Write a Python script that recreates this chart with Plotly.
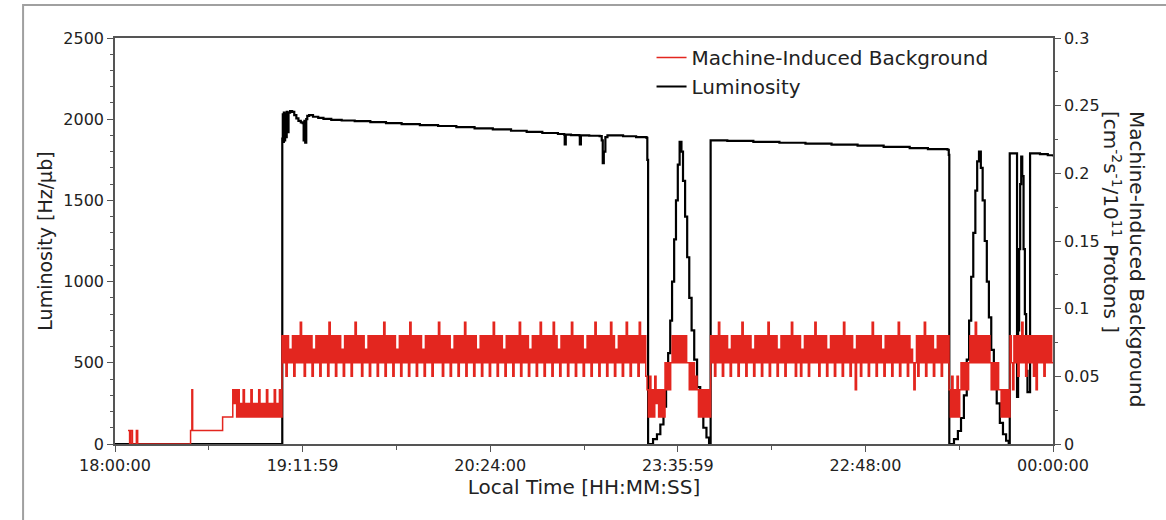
import plotly.graph_objects as go

# ---------------- data ----------------
# x axis is minutes after 18:00:00
tick_minutes = [0, 72, 144, 216, 288, 360]
tick_labels = ["18:00:00", "19:11:59", "20:24:00", "23:35:59", "22:48:00", "00:00:00"]

# Luminosity [Hz/ub] (step points)
lum_time = [0, 64.1, 64.2, 64.4, 64.6, 64.8, 65.0, 65.3, 65.6, 65.9, 66.2, 66.6, 67.2, 68.0, 68.8,
            69.6, 70.4, 71.3, 72.0, 72.4, 72.7, 73.0, 73.4, 73.8, 74.5, 76, 78, 80, 83, 87, 92, 98,
            104, 110, 117, 124, 131, 138, 145, 152, 158, 164, 170, 172.4, 172.6, 173.0, 175, 178.2,
            178.4, 178.8, 182, 186, 186.8, 187.2, 187.6, 188.2, 189, 195, 200, 204.0, 204.3, 204.6,
            206.5, 208.0, 209.3, 210.5, 211.5, 212.3, 213.1, 213.8, 214.6, 215.3, 216.0, 216.7,
            217.4, 218.0, 218.8, 219.6, 220.4, 221.3, 222.3, 223.4, 224.6, 225.8, 227.0, 228.0,
            228.6, 235, 245, 255, 265, 275, 285, 295, 305, 312, 319.5, 320.0, 320.2,
            322, 323.5, 324.7, 325.8, 326.9, 327.8, 328.6, 329.4, 330.2, 330.9, 331.6, 332.3,
            333.0, 333.8, 334.6, 335.4, 336.3, 337.3, 338.4, 339.6, 340.8, 342.0, 343.0,
            343.4, 346.2, 346.6, 347.0, 347.4, 347.8, 348.2, 348.7, 349.2, 349.7, 350.2, 351.2,
            355, 358, 360]
lum_value = [0, 0, 1880, 2030, 1860, 2040, 1870, 2035, 1890, 2045, 1920, 2040, 2050, 2045, 2025,
             2005, 1990, 1980, 1975, 1870, 1990, 1855, 2000, 2020, 2025, 2015, 2008, 2002, 1996, 1992, 1988, 1982,
             1976, 1970, 1964, 1958, 1951, 1944, 1937, 1929, 1922, 1915, 1909, 1905, 1845, 1905, 1902, 1900,
             1845, 1900, 1898, 1896, 1870, 1730, 1800, 1890, 1900, 1895, 1890, 1885, 1750, 0,
             30, 60, 120, 230, 380, 560, 760, 1000, 1260, 1500, 1720, 1860,
             1800, 1620, 1400, 1150, 900, 700, 520, 350, 200, 100, 40, 0,
             1870, 1866, 1860, 1855, 1849, 1843, 1837, 1830, 1822, 1816, 1812, 1780, 0,
             30, 80, 160, 300, 520, 760, 1030, 1300, 1560, 1740, 1800, 1700,
             1500, 1250, 1000, 780, 580, 400, 250, 130, 60, 20, 0,
             1790, 290, 700, 1200, 1600, 1770, 1650, 1200, 800, 450, 320, 1790,
             1785, 1778, 1770]

# Machine-induced background, in units of 0.01 cm^-2 s^-1 / 1e11 protons
bg_early_time = [5.0, 5.6, 6.1, 6.7, 8.2, 8.7, 29.0, 29.5, 29.8, 41.3]
bg_early_value = [1, 0, 1, 0, 1, 0, 1, 4, 1, 2]

bg_ramp = [4, 3, 4, 2, 4, 2, 3, 2, 4, 2, 3, 2, 3, 2, 4, 2, 3, 2, 3, 2,
           4, 2, 3, 2, 3, 2, 4, 2, 3, 2, 3, 2, 4, 2, 3, 2, 4, 2]

bg_fill1 = [
    8, 6, 8, 5, 8, 6, 7, 6, 8, 5, 8, 6, 8, 6, 9, 6, 8, 5, 8, 6, 8, 6, 8, 5, 7, 6, 8, 6, 8, 5, 8, 6, 8, 6, 8, 5, 9, 6, 8, 6,
    8, 5, 8, 6, 8, 6, 7, 5, 8, 6, 8, 6, 8, 5, 8, 6, 9, 6, 8, 6, 8, 5, 8, 6, 7, 6, 8, 5, 8, 6, 8, 6, 8, 5, 8, 6, 8, 6, 9, 5,
    8, 6, 8, 6, 8, 5, 8, 6, 7, 6, 8, 5, 8, 6, 8, 6, 8, 5, 9, 6, 8, 6, 8, 5, 8, 6, 8, 6, 7, 5, 8, 6, 8, 6, 8, 5, 8, 6, 8, 6,
    9, 6, 8, 5, 8, 6, 8, 6, 8, 5, 7, 6, 8, 6, 8, 5, 8, 6, 8, 6, 9, 5, 8, 6, 8, 6, 8, 5, 8, 6, 7, 6, 8, 5, 8, 6, 8, 6, 8, 5,
    8, 6, 9, 6, 8, 5, 8, 6, 8, 6, 7, 5, 8, 6, 8, 6, 8, 5, 8, 6, 8, 6, 9, 5, 8, 6, 8, 6, 8, 5, 7, 6, 8, 6, 8, 5, 8, 6, 9, 6,
    8, 5, 8, 6, 8, 6, 8, 5, 9, 6, 8, 6, 7, 5, 8, 6, 8, 6, 8, 5, 8, 6, 9, 6, 8, 5, 8, 6, 8, 6, 8, 5, 7, 6, 8, 6, 8, 5, 8, 6,
    9, 6, 8, 5, 8, 6, 8, 6, 8, 5, 8, 6, 9, 6, 8, 5, 7, 6, 8, 6, 8, 5, 8, 6, 9, 6, 8, 5, 8, 6, 8, 6, 8, 5, 9, 6, 8, 6, 8, 5]

bg_scan1_a = [4, 2, 5, 2, 4, 2, 5, 3, 4, 2, 4, 2, 4, 2]
bg_scan1_b = [6, 4, 6, 4, 6]
bg_scan1_c = [8, 6, 8, 6, 8, 6, 8, 6, 8, 6, 8, 6]
bg_scan1_d = [6, 4, 6, 4, 6, 4, 5]
bg_scan1_e = [4, 2, 4, 2, 4, 2, 4, 2, 4, 2]

bg_fill2 = [
    8, 6, 8, 5, 8, 6, 9, 6, 8, 5, 8, 6, 8, 6, 7, 5, 8, 6, 8, 6, 8, 5, 8, 6, 9, 6, 8, 5, 8, 6, 8, 6, 7, 5, 8, 6, 8, 6, 8, 5,
    8, 6, 8, 6, 9, 5, 8, 6, 8, 6, 8, 5, 7, 6, 8, 6, 8, 5, 8, 6, 8, 6, 9, 6, 8, 5, 8, 6, 8, 5, 7, 6, 8, 6, 8, 5, 8, 6, 8, 6,
    9, 6, 8, 5, 8, 6, 8, 6, 8, 5, 7, 6, 8, 6, 8, 5, 8, 6, 8, 6, 8, 5, 9, 6, 8, 6, 8, 5, 8, 6, 7, 4, 8, 6, 8, 5, 8, 6, 8, 6,
    8, 5, 8, 6, 9, 6, 8, 5, 8, 6, 8, 6, 7, 5, 8, 6, 8, 6, 8, 5, 8, 6, 8, 6, 9, 5, 8, 6, 8, 6, 8, 5, 8, 6, 7, 6, 4, 6, 8, 5,
    8, 6, 8, 6, 9, 5, 8, 6, 8, 6, 8, 5, 7, 6, 8, 6, 8, 5, 8, 6, 8, 6, 8]

bg_scan2_a = [4, 2, 5, 2, 4, 2, 5, 2, 4]
bg_scan2_b = [6, 4, 6, 4, 6, 4, 6]
bg_scan2_c = [8, 6, 8, 6, 9, 6, 8, 6, 8, 6, 8, 6, 8, 6, 8]
bg_scan2_d = [6, 4, 6, 4, 6, 4, 6, 4]
bg_scan2_e = [4, 2, 4, 2, 4, 2, 4, 2]

bg_fill3 = [8, 6, 4, 8, 6, 8, 5, 8, 6, 9, 6, 8, 5, 8, 6, 8, 6, 8, 5, 8, 4, 8, 6, 8, 6, 8, 5, 8, 6, 8, 6, 8, 6]

# time span (minutes) covered by each sampled block
bg_spans = [(45.2, 64.1), (64.1, 204.2), (204.2, 211.1), (211.1, 213.8), (213.8, 219.9),
            (219.9, 223.4), (223.4, 228.6), (228.6, 320.1), (320.1, 324.7), (324.7, 328.1),
            (328.1, 335.8), (335.8, 339.6), (339.6, 343.5), (343.5, 360.0)]
bg_blocks = [bg_ramp, bg_fill1, bg_scan1_a, bg_scan1_b, bg_scan1_c, bg_scan1_d, bg_scan1_e,
             bg_fill2, bg_scan2_a, bg_scan2_b, bg_scan2_c, bg_scan2_d, bg_scan2_e, bg_fill3]

# ---------------- build ----------------
bg_t = list(bg_early_time)
bg_v = [v / 100 for v in bg_early_value]
for (t0, t1), vals in zip(bg_spans, bg_blocks):
    n = len(vals)
    for i, v in enumerate(vals):
        bg_t.append(t0 + (t1 - t0) * i / n)
        bg_v.append(v / 100)
bg_t.append(360.0)
bg_v.append(bg_v[-1])

FONT = "DejaVu Sans"
AX = "#555555"
TXT = "#222222"

fig = go.Figure()
fig.add_trace(go.Scatter(x=bg_t, y=bg_v, mode="lines", yaxis="y2",
                         name="Machine-Induced Background",
                         line=dict(color="#e3261f", width=1.5, shape="hv"),
                         legendgroup="a"))
fig.add_trace(go.Scatter(x=lum_time, y=lum_value, mode="lines", yaxis="y",
                         name="Luminosity",
                         line=dict(color="#000000", width=2.2, shape="hv"),
                         legendgroup="b"))

tickfont = dict(family=FONT, size=16, color=TXT)

fig.update_layout(
    width=1166, height=520,
    margin=dict(l=115, r=113, t=38, b=76),
    paper_bgcolor="white", plot_bgcolor="white",
    font=dict(family=FONT, color=TXT),
    showlegend=True,
    legend=dict(x=0.572, y=1.0, xanchor="left", yanchor="top",
                bgcolor="rgba(255,255,255,0)", font=dict(family=FONT, size=20, color=TXT),
                itemwidth=30, traceorder="grouped", tracegroupgap=0),
    xaxis=dict(range=[0, 360], tickmode="array", tickvals=tick_minutes, ticktext=tick_labels,
               showgrid=False, zeroline=False, showline=True, linecolor=AX, linewidth=1.5,
               mirror=True, ticks="outside", ticklen=6, tickcolor=AX, tickwidth=1.2,
               minor=dict(tick0=0, dtick=36, ticks="outside", ticklen=4, tickcolor=AX),
               tickfont=tickfont, layer="below traces",
               title=dict(text="Local Time [HH:MM:SS]", font=dict(family=FONT, size=20, color=TXT),
                          standoff=5)),
    yaxis=dict(range=[0, 2500], dtick=500, tick0=0, showgrid=False, zeroline=False,
               showline=True, linecolor=AX, linewidth=1.5, ticks="outside", ticklen=6,
               tickcolor=AX, tickwidth=1.2,
               minor=dict(dtick=100, ticks="outside", ticklen=3, tickcolor=AX),
               tickfont=tickfont, layer="below traces",
               title=dict(text="Luminosity [Hz/μb]", font=dict(family=FONT, size=19, color=TXT),
                          standoff=6)),
    yaxis2=dict(range=[0, 0.3], dtick=0.05, tick0=0, overlaying="y", side="right",
                showgrid=False, zeroline=False, showline=True, linecolor=AX, linewidth=1.5,
                ticks="outside", ticklen=6, tickcolor=AX, tickwidth=1.2,
                minor=dict(dtick=0.025, ticks="outside", ticklen=3, tickcolor=AX),
                tickfont=tickfont, layer="below traces"),
)

fig.add_annotation(
    text="Machine-Induced Background<br>[cm<sup>-2</sup>s<sup>-1</sup>/10<sup>11</sup> Protons ]",
    xref="paper", yref="paper", x=1.075, y=0.455, xanchor="center", yanchor="middle",
    textangle=90, align="left", showarrow=False,
    font=dict(family=FONT, size=20, color=TXT))

# outer frame of the figure panel
fig.add_shape(type="rect", xref="paper", yref="paper", x0=-0.098, x1=1.3, y0=-0.4, y1=1.081,
              line=dict(color="#a0a0a0", width=2), fillcolor="rgba(0,0,0,0)", layer="below")

fig.write_html("out.html")
